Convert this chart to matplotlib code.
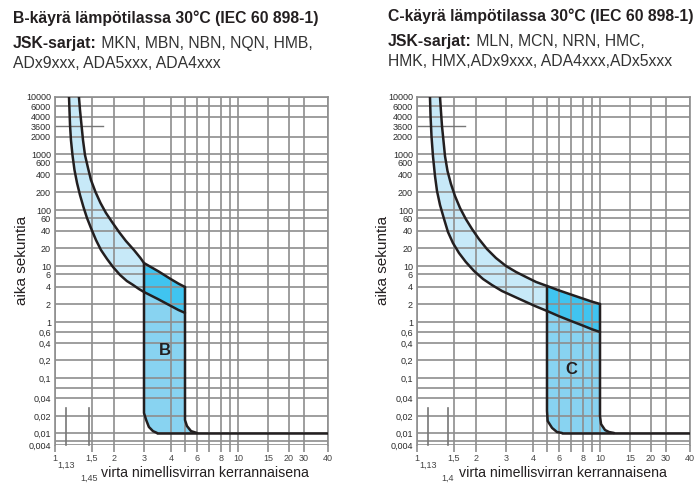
import matplotlib
matplotlib.use("Agg")
import matplotlib.pyplot as plt
import numpy as np

plt.rcParams['font.family'] = ['Liberation Sans', 'DejaVu Sans']

# ---- values (x = multiple of In, t = seconds) ----
b_upper_x = [1.30, 1.315, 1.337, 1.359, 1.389, 1.436, 1.483, 1.57, 1.676, 1.801, 1.949,
             2.14, 2.35, 2.62, 2.86, 3.0, 3.5, 4.0, 4.5, 5.0]
b_upper_t = [10000, 5180, 3640, 1770, 938, 490, 318, 200, 131, 82.6, 53,
             38.4, 26.6, 18.5, 13.6, 11.2, 7.1, 5.1, 4.45, 4.0]
b_lower_x = [1.166, 1.172, 1.179, 1.191, 1.211, 1.238, 1.273, 1.315, 1.366, 1.42, 1.483,
             1.58, 1.687, 1.826, 1.974, 2.17, 2.38, 2.59, 2.80, 3.0, 3.5, 4.0, 4.5, 5.0]
b_lower_t = [10000, 5180, 3640, 1770, 938, 458, 283, 178, 112, 60, 43.9,
             27.7, 18.5, 13.1, 9.38, 5.82, 4.82, 4.26, 3.69, 3.26, 2.42, 1.85, 1.59, 1.42]
b_left_x = [3.0, 3.0, 3.07, 3.16, 3.30, 3.45]
b_left_t = [11.2, 0.0224, 0.017, 0.0128, 0.0108, 0.01]
b_right_x = [5.0, 5.0, 5.15, 5.48, 6.0]
b_right_t = [4.0, 0.017, 0.0133, 0.0108, 0.01]

c_upper_x = [1.287, 1.30, 1.315, 1.337, 1.359, 1.397, 1.451, 1.52, 1.623, 1.75, 1.898,
             2.08, 2.32, 2.62, 3.0, 3.34, 3.71, 4.20, 5, 6, 7, 8, 9, 10]
c_upper_t = [10000, 4990, 3600, 1700, 880, 443, 272, 171, 108, 58.2, 42.6,
             28.9, 19.2, 13.6, 10, 6.82, 5.47, 4.68, 4.13, 3.48, 2.94, 2.49, 2.2, 2.0]
c_lower_x = [1.153, 1.16, 1.172, 1.191, 1.218, 1.245, 1.287, 1.345, 1.404, 1.483, 1.601,
             1.75, 1.949, 2.20, 2.48, 2.84, 3.23, 3.63, 4.13, 5, 6, 7, 8, 9, 10]
c_lower_t = [10000, 4150, 2110, 880, 370, 208, 121, 58.2, 38.4, 24.5, 16.5,
             11.7, 7.27, 5.13, 4.26, 3.40, 2.77, 2.26, 1.85, 1.53, 1.25, 1.04, 0.83, 0.69, 0.6]
c_left_x = [5.0, 5.0, 5.05, 5.4, 5.82, 6.24]
c_left_t = [4.13, 0.0243, 0.0163, 0.0123, 0.0104, 0.01]
c_right_x = [10.0, 10.0, 10.14, 10.7, 11.3, 12.1]
c_right_t = [2.0, 0.02, 0.0144, 0.0113, 0.0104, 0.01]

instant_t = 0.01
x_max = 40
line_3600_end = 1.73

x_ticks = [1, 1.5, 2, 3, 4, 5, 6, 7, 8, 9, 10, 15, 20, 30, 40]
x_labels = ['1', '1,5', '2', '3', '4', '', '6', '', '8', '', '10', '15', '20', '30', '40']
y_ticks = [10000, 6000, 4000, 3600, 2000, 1000, 600, 400, 200, 100, 60, 40, 20, 10,
           6, 4, 2, 1, 0.6, 0.4, 0.2, 0.1, 0.06, 0.04, 0.02, 0.01, 0.006, 0.004]
y_labels = ['10000', '6000', '4000', '3600', '2000', '1000', '600', '400', '200', '100',
            '60', '40', '20', '10', '6', '4', '2', '1', '0,6', '0,4', '0,2', '0,1', '',
            '0,04', '0,02', '0,01', '', '0,004']

# ---- the printed chart's own (distorted log) scale ----
X_NODES = [0.1, 1, 1.5, 2, 3, 4, 5, 6, 7, 8, 9, 10, 15, 20, 30, 40, 1000]
X_POS = [-185, 0, 37, 59, 89, 116, 130, 142, 154, 166, 175, 183, 213, 234, 249, 273, 530]
Y_NODES = [1e-5, 0.004, 0.006, 0.01, 0.02, 0.04, 0.06, 0.1, 0.2, 0.4, 0.6, 1, 2, 4, 6, 10,
           20, 40, 60, 100, 200, 400, 600, 1000, 2000, 3600, 4000, 6000, 10000, 1e6]
Y_POS = [-146, 0, 4, 12, 29, 47, 57, 67, 85, 102, 113, 123, 141, 158, 171, 179, 197, 214,
         227, 235, 253, 271, 283, 291, 308, 319, 328, 339, 348, 460]
LX, LY = np.log10(X_NODES), np.log10(Y_NODES)


def fwd_x(v):
    return np.interp(np.log10(np.clip(v, 1e-9, None)), LX, X_POS)


def inv_x(p):
    return 10 ** np.interp(p, X_POS, LX)


def fwd_y(v):
    return np.interp(np.log10(np.clip(v, 1e-12, None)), LY, Y_POS)


def inv_y(p):
    return 10 ** np.interp(p, Y_POS, LY)


W, H = 698, 484
GRID = '#8e8e8e'
INK = '#231f20'
LIGHT, DARK, MID = '#c7e9f8', '#40c4f0', '#88d3f1'

fig = plt.figure(figsize=(W / 100, H / 100), dpi=100)


def panel(left_px, up_x, up_t, lo_x, lo_t, le_x, le_t, ri_x, ri_t, letter, letter_at,
          stubs, stub_labels, xlabel_cx, ylabel_x):
    ax = fig.add_axes([left_px / W, (H - 445) / H, 273 / W, 348 / H])
    ax.set_xscale('function', functions=(fwd_x, inv_x))
    ax.set_yscale('function', functions=(fwd_y, inv_y))
    up_x, up_t, lo_x, lo_t = map(np.asarray, (up_x, up_t, lo_x, lo_t))
    start = le_x[0]

    u, l = up_x <= start, lo_x <= start
    ax.fill(np.r_[lo_x[l], up_x[u][::-1]], np.r_[lo_t[l], up_t[u][::-1]],
            color=LIGHT, lw=0, zorder=1)
    u, l = up_x >= start, lo_x >= start
    ax.fill(np.r_[up_x[u], lo_x[l][::-1]], np.r_[up_t[u], lo_t[l][::-1]],
            color=DARK, lw=0, zorder=1)
    ax.fill(np.r_[lo_x[l], ri_x[1:], le_x[1:][::-1]], np.r_[lo_t[l], ri_t[1:], le_t[1:][::-1]],
            color=MID, lw=0, zorder=1)

    # grid
    for v in x_ticks:
        ax.axvline(v, color=GRID, lw=1.2, zorder=2)
    for v in y_ticks:
        if v != 3600:
            ax.axhline(v, color=GRID, lw=1.2, zorder=2)
    ax.plot([1, line_3600_end], [3600, 3600], color='#777777', lw=1.0, zorder=2)
    for v, lab, dy in zip(stubs, stub_labels, (-0.057, -0.095)):
        ax.plot([v, v], [0.004, 0.027], color='#777777', lw=1.2, zorder=2, clip_on=False)
        ax.text(v, dy, lab, transform=ax.get_xaxis_transform(), ha='center', va='center',
                fontsize=6.5, color='#444444')

    # curves
    kw = dict(color=INK, lw=1.8, zorder=4, solid_capstyle='round', solid_joinstyle='round')
    ax.plot(up_x, up_t, **kw)
    ax.plot(lo_x, lo_t, **kw)
    ax.plot(le_x, le_t, **kw)
    ax.plot(ri_x, ri_t, **kw)
    ax.plot([le_x[-1], x_max], [instant_t, instant_t], **kw)
    ax.text(letter_at[0], letter_at[1], letter, fontsize=12, fontweight='bold',
            color=INK, ha='center', va='center', zorder=5)

    ax.set_xlim(1, 40)
    ax.set_ylim(0.004, 10000)
    ax.set_xticks(x_ticks)
    ax.set_xticklabels(x_labels)
    ax.set_yticks(y_ticks)
    ax.set_yticklabels(y_labels)
    ax.minorticks_off()
    ax.tick_params(axis='x', length=5, width=1.2, color=GRID, pad=1.5,
                   labelsize=6.5, labelcolor='#444444')
    ax.tick_params(axis='y', length=0, pad=3, labelsize=6.5, labelcolor='#2a2a2a')
    for s in ax.spines.values():
        s.set_color(GRID)
        s.set_linewidth(1.2)
    ax.spines['bottom'].set_visible(False)

    ax.text((xlabel_cx - left_px) / 273, (445 - 473) / 348, 'virta nimellisvirran kerrannaisena',
            transform=ax.transAxes, ha='center', va='center', fontsize=10.2, color=INK)
    ax.text((ylabel_x - left_px) / 273, 0.53, 'aika sekuntia', rotation=90,
            transform=ax.transAxes, ha='center', va='center', fontsize=11, color=INK)
    return ax


panel(55, b_upper_x, b_upper_t, b_lower_x, b_lower_t, b_left_x, b_left_t,
      b_right_x, b_right_t, 'B', (3.75, 0.30), [1.13, 1.45], ['1,13', '1,45'], 205, 22)
panel(417, c_upper_x, c_upper_t, c_lower_x, c_lower_t, c_left_x, c_left_t,
      c_right_x, c_right_t, 'C', (7, 0.14), [1.13, 1.4], ['1,13', '1,4'], 563, 383)

# ---- header texts ----
renderer = fig.canvas.get_renderer()


def header(x, ys, title, series, last):
    fig.text(x / W, 1 - ys[0] / H, title, fontsize=11.3, fontweight='bold', color=INK,
             va='baseline')
    t = fig.text(x / W, 1 - ys[1] / H, 'JSK-sarjat:', fontsize=11.3, fontweight='bold',
                 color=INK, va='baseline')
    x1 = t.get_window_extent(renderer).x1
    fig.text(x1 / W, 1 - ys[1] / H, ' ' + series, fontsize=11.3, color='#333333', va='baseline')
    fig.text(x / W, 1 - ys[2] / H, last, fontsize=11.3, color='#333333', va='baseline')


header(13, (23, 48, 68), 'B-käyrä lämpötilassa 30°C (IEC 60 898-1)',
       'MKN, MBN, NBN, NQN, HMB,', 'ADx9xxx, ADA5xxx, ADA4xxx')
header(388, (21, 46, 66), 'C-käyrä lämpötilassa 30°C (IEC 60 898-1)',
       'MLN, MCN, NRN, HMC,', 'HMK, HMX,ADx9xxx, ADA4xxx,ADx5xxx')

fig.savefig('out.png', dpi=100)
